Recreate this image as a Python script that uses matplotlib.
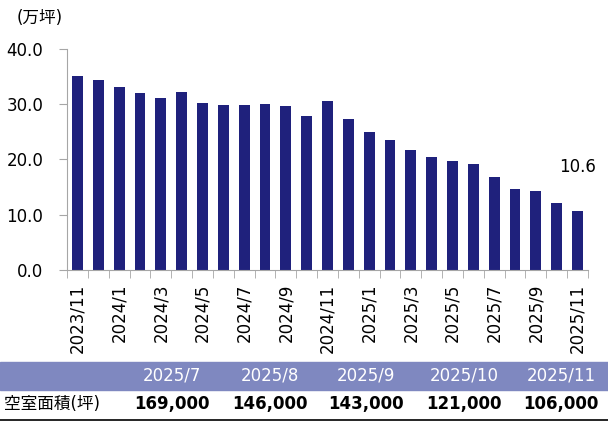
import numpy as np
import matplotlib
matplotlib.use('Agg')
import matplotlib.pyplot as plt
from matplotlib.patches import Rectangle
from matplotlib.lines import Line2D

plt.rcParams['font.family'] = ['DejaVu Sans', 'Noto Sans CJK JP']

# Dados: espaço vago (万坪) mensal 2023/11 - 2025/11
meses = ['2023/11', '2023/12', '2024/1', '2024/2', '2024/3', '2024/4', '2024/5',
         '2024/6', '2024/7', '2024/8', '2024/9', '2024/10', '2024/11', '2024/12',
         '2025/1', '2025/2', '2025/3', '2025/4', '2025/5', '2025/6', '2025/7',
         '2025/8', '2025/9', '2025/10', '2025/11']
valores = [35.2, 34.3, 33.2, 32.1, 31.2, 32.3, 30.3, 29.9, 29.9, 30.1, 29.7, 27.9,
           30.6, 27.4, 25.0, 23.6, 21.8, 20.5, 19.8, 19.2, 16.9, 14.6, 14.3, 12.1, 10.6]

tabela_meses = ['2025/7', '2025/8', '2025/9', '2025/10', '2025/11']
tabela_valores = ['169,000', '146,000', '143,000', '121,000', '106,000']
linha_titulo = '空室面積(坪)'

W, H = 608, 422
fig = plt.figure(figsize=(W / 100, H / 100), dpi=100)

ax = fig.add_axes([67 / W, 1 - 270 / H, (588 - 67) / W, (270 - 49) / H])
x = np.arange(len(meses))
ax.bar(x, valores, 0.52, color='#1f217c')

ax.set_xlim(-0.5, len(meses) - 0.5)
ax.set_ylim(0, 40)
ax.set_yticks(np.arange(0, 41, 10))
ax.set_yticklabels([f'{v:.1f}' for v in np.arange(0, 41, 10)], fontsize=12)

ax.set_xticks(x[::2])
ax.set_xticklabels(meses[::2], rotation=90, fontsize=12)
ax.set_xticks(np.arange(-0.5, len(meses), 1), minor=True)

for s in ['top', 'right']:
    ax.spines[s].set_visible(False)
for s in ['left', 'bottom']:
    ax.spines[s].set_color('#a6a6a6')
ax.tick_params(axis='y', length=6, color='#a6a6a6', pad=11)
ax.tick_params(axis='x', which='major', length=0, pad=10)
ax.tick_params(axis='x', which='minor', length=6, color='#a6a6a6')

# Rótulo do último valor
ax.annotate(f'{valores[-1]:.1f}', (x[-1], valores[-1]), xytext=(0, 32),
            textcoords='offset points', ha='center', va='center', fontsize=12)

fig.text(17 / W, 1 - 18 / H, '(万坪)', fontsize=12, va='center', ha='left')

# Tabela abaixo do gráfico
fig.patches.append(Rectangle((0, 1 - 390 / H), 1, 28 / H, transform=fig.transFigure,
                             color='#7f88c0', zorder=0))
centros = [172, 270, 366, 464, 561]
for cx, m, v in zip(centros, tabela_meses, tabela_valores):
    fig.text(cx / W, 1 - 376 / H, m, fontsize=12, color='white', ha='center', va='center')
    fig.text(cx / W, 1 - 404 / H, v, fontsize=12, fontweight='bold', ha='center', va='center')
fig.text(4 / W, 1 - 404 / H, linha_titulo, fontsize=12, ha='left', va='center')
fig.lines.append(Line2D([0, 1], [1 - 420 / H, 1 - 420 / H], transform=fig.transFigure,
                        color='black', linewidth=1.2))

plt.savefig('out.png', dpi=100)
